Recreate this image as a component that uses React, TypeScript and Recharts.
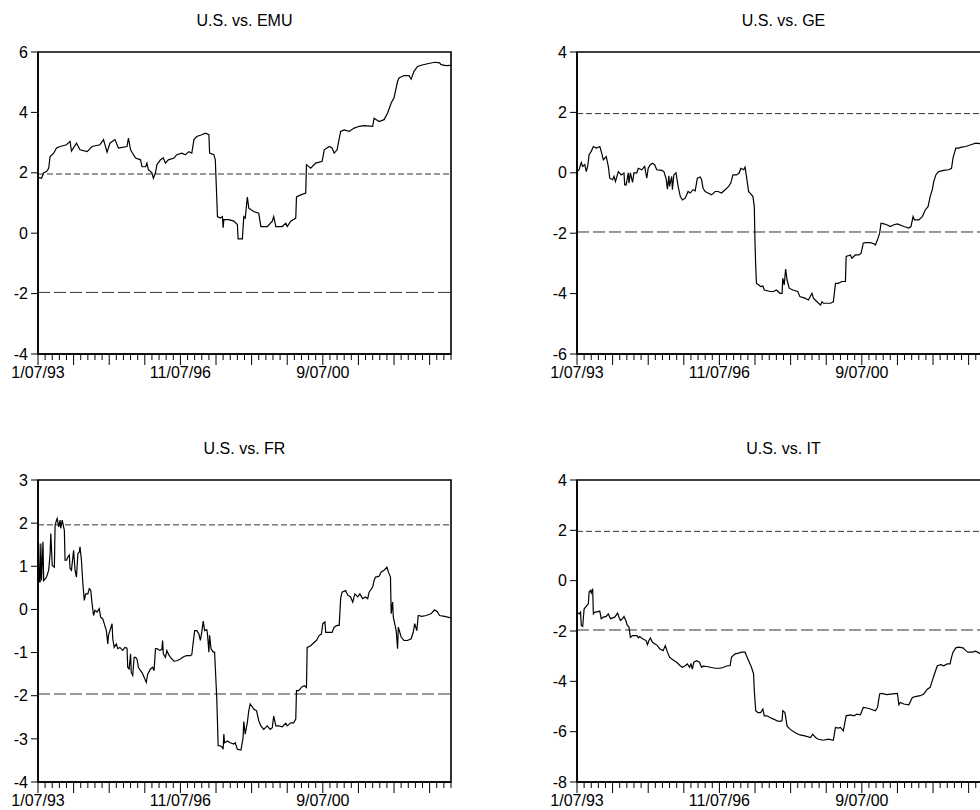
import React from 'react';
import { LineChart, Line, XAxis, YAxis, ReferenceLine, ReferenceArea } from 'recharts';

// weekly observations, [week index, statistic]
type Pt = [number, number];

const titles = ['U.S. vs. EMU', 'U.S. vs. GE', 'U.S. vs. FR', 'U.S. vs. IT'];

const xLabelIdx = [0, 200, 400];
const xLabelText = ['1/07/93', '11/07/96', '9/07/00'];

const emuTicks = [-4, -2, 0, 2, 4, 6];
const geTicks = [-6, -4, -2, 0, 2, 4];
const frTicks = [-4, -3, -2, -1, 0, 1, 2, 3];
const itTicks = [-8, -6, -4, -2, 0, 2, 4];

const critical = [1.96, -1.96];

const emuPoints: Pt[] = [
  [0, 1.85], [5, 1.82], [8, 2.0], [12, 2.04], [15, 2.15], [17, 2.54], [22, 2.65], [26, 2.82], [31, 2.87],
  [40, 2.93], [45, 3.04], [47, 2.72], [54, 2.98], [59, 2.76], [69, 2.7], [76, 2.87], [87, 2.93], [92, 3.1],
  [97, 2.68], [101, 2.98], [108, 3.1], [113, 2.82], [125, 2.87], [127, 3.15], [130, 2.76], [134, 2.6],
  [137, 2.49], [144, 2.43], [146, 2.2], [151, 2.2], [153, 2.32], [155, 2.1], [160, 2.0], [162, 1.82],
  [165, 2.0], [167, 2.27], [172, 2.43], [176, 2.49], [179, 2.32], [183, 2.43], [191, 2.49], [195, 2.6],
  [202, 2.65], [207, 2.6], [212, 2.7], [216, 2.65], [219, 3.1], [223, 3.2], [230, 3.26], [235, 3.31],
  [240, 3.26], [241, 2.65], [247, 2.6], [249, 2.43], [251, 1.2], [252, 0.55], [256, 0.5], [259, 0.55],
  [260, 0.18], [261, 0.45], [268, 0.45], [275, 0.4], [280, 0.29], [281, -0.19], [287, -0.19], [289, 0.55],
  [291, 0.5], [294, 1.2], [296, 0.83], [303, 0.72], [310, 0.66], [313, 0.22], [322, 0.22], [329, 0.4],
  [331, 0.55], [334, 0.22], [343, 0.22], [348, 0.33], [350, 0.22], [355, 0.4], [362, 0.5], [363, 1.2],
  [369, 1.27], [376, 1.33], [377, 2.27], [383, 2.15], [390, 2.32], [399, 2.38], [402, 2.76], [409, 2.87],
  [413, 2.82], [416, 2.65], [420, 2.76], [425, 3.37], [430, 3.42], [437, 3.37], [444, 3.48], [451, 3.54],
  [458, 3.56], [470, 3.54], [472, 3.81], [479, 3.7], [486, 3.76], [491, 3.98], [496, 4.31], [500, 4.48],
  [505, 5.03], [507, 5.14], [514, 5.22], [521, 5.22], [524, 5.1], [528, 5.36], [533, 5.52], [538, 5.56],
  [547, 5.61], [557, 5.66], [564, 5.64], [566, 5.58], [573, 5.55], [580, 5.56],
];

const gePoints: Pt[] = [
  [0, 0.04], [3, 0.1], [6, 0.34], [8, 0.21], [11, 0.27], [13, 0.04], [15, 0.21], [17, 0.6], [20, 0.71],
  [23, 0.87], [27, 0.82], [32, 0.87], [34, 0.71], [37, 0.43], [41, 0.54], [44, 0.21], [46, -0.18],
  [50, -0.23], [52, -0.12], [54, -0.29], [58, 0.04], [60, -0.01], [62, -0.07], [66, -0.01], [67, -0.4],
  [69, -0.4], [72, 0.0], [73, -0.34], [75, 0.0], [78, -0.32], [80, 0.0], [84, 0.0], [86, 0.15], [91, 0.1],
  [95, 0.21], [98, -0.18], [100, 0.15], [103, 0.27], [106, 0.32], [109, 0.27], [112, 0.1], [119, 0.08],
  [122, 0.04], [125, -0.18], [127, -0.54], [129, -0.1], [130, -0.45], [133, -0.12], [134, -0.56],
  [136, -0.07], [139, 0.0], [142, -0.45], [145, -0.78], [148, -0.9], [152, -0.84], [156, -0.62],
  [159, -0.67], [163, -0.56], [166, -0.6], [169, -0.18], [173, -0.14], [175, -0.23], [177, -0.51],
  [180, -0.62], [184, -0.67], [189, -0.73], [194, -0.62], [198, -0.62], [203, -0.67], [208, -0.56],
  [213, -0.45], [216, -0.34], [219, -0.07], [224, -0.07], [228, 0.0], [230, 0.15], [234, 0.1], [236, 0.19],
  [238, -0.12], [241, -0.62], [243, -0.67], [247, -0.78], [249, -1.12], [250, -2.33], [251, -3.1],
  [252, -3.66], [255, -3.71], [258, -3.77], [261, -3.75], [263, -3.88], [271, -3.93], [276, -3.93],
  [280, -3.88], [285, -3.99], [288, -3.99], [289, -3.49], [291, -3.71], [293, -3.19], [295, -3.55],
  [298, -3.82], [303, -3.88], [310, -3.93], [313, -4.1], [320, -4.15], [325, -4.21], [330, -3.99],
  [332, -4.15], [337, -4.27], [342, -4.38], [344, -4.27], [346, -4.32], [351, -4.32], [356, -4.32],
  [360, -4.27], [363, -3.66], [367, -3.66], [372, -3.6], [377, -3.6], [378, -2.77], [384, -2.72],
  [386, -2.83], [391, -2.72], [396, -2.72], [399, -2.66], [402, -2.33], [405, -2.31], [412, -2.31],
  [417, -2.35], [419, -2.39], [422, -2.22], [425, -2.0], [427, -1.67], [431, -1.69], [435, -1.72],
  [440, -1.78], [445, -1.72], [450, -1.69], [459, -1.78], [466, -1.83], [469, -1.78], [472, -1.45],
  [474, -1.56], [480, -1.56], [485, -1.45], [489, -1.23], [493, -1.12], [496, -0.78], [499, -0.56],
  [501, -0.29], [504, -0.07], [506, 0.0], [508, 0.04], [515, 0.08], [522, 0.1], [526, 0.15], [528, 0.49],
  [532, 0.82], [536, 0.82], [540, 0.85], [546, 0.87], [553, 0.93], [560, 0.98], [567, 0.96], [573, 1.0],
  [580, 0.98],
];

const frPoints: Pt[] = [
  [0, 0.64], [1, 1.53], [2, 0.64], [3, 0.64], [4, 1.53], [5, 0.67], [7, 1.57], [8, 0.67], [10, 0.71],
  [12, 0.75], [15, 0.91], [17, 1.29], [18, 1.76], [20, 1.02], [23, 0.98], [24, 1.95], [26, 2.07],
  [27, 2.11], [29, 1.91], [31, 2.07], [32, 1.88], [34, 2.07], [36, 1.91], [37, 1.84], [38, 1.14],
  [40, 1.14], [42, 1.22], [44, 1.26], [45, 0.95], [47, 0.91], [50, 1.37], [52, 0.91], [54, 0.75],
  [56, 1.29], [58, 1.33], [59, 1.45], [61, 1.14], [63, 0.6], [65, 0.21], [67, 0.36], [70, 0.36],
  [72, 0.48], [74, 0.45], [76, 0.13], [78, -0.14], [80, -0.02], [83, -0.06], [86, 0.02], [88, -0.18],
  [91, -0.22], [93, -0.33], [96, -0.49], [98, -0.8], [99, -0.6], [101, -0.49], [104, -0.33], [105, -0.68],
  [107, -0.88], [110, -0.8], [112, -0.91], [115, -0.88], [119, -0.95], [122, -0.88], [125, -0.9],
  [126, -1.34], [128, -1.38], [130, -1.03], [131, -1.46], [133, -1.53], [135, -1.11], [137, -1.11],
  [139, -1.15], [141, -1.34], [144, -1.42], [146, -1.46], [148, -1.53], [151, -1.65], [152, -1.69],
  [154, -1.5], [158, -1.38], [161, -1.34], [163, -1.42], [165, -0.91], [167, -0.91], [171, -0.95],
  [174, -0.93], [175, -0.72], [176, -1.03], [179, -1.11], [181, -0.95], [183, -1.03], [186, -1.11],
  [191, -1.2], [195, -1.19], [200, -1.15], [205, -1.09], [209, -1.07], [214, -1.07], [216, -1.05],
  [218, -0.76], [220, -0.49], [223, -0.49], [226, -0.57], [228, -0.72], [230, -0.53], [232, -0.27],
  [234, -0.49], [237, -0.47], [238, -0.57], [240, -0.99], [241, -0.6], [243, -0.91], [246, -0.99],
  [248, -0.99], [249, -1.34], [251, -2.04], [252, -2.58], [253, -3.16], [256, -3.16], [259, -3.2],
  [260, -3.24], [261, -2.89], [262, -3.09], [266, -3.05], [270, -3.09], [275, -3.12], [277, -3.09],
  [280, -3.24], [285, -3.26], [288, -2.97], [289, -2.6], [291, -2.89], [294, -2.62], [296, -2.35],
  [298, -2.19], [303, -2.31], [307, -2.35], [310, -2.58], [313, -2.7], [317, -2.78], [322, -2.7],
  [326, -2.78], [329, -2.74], [331, -2.47], [334, -2.7], [338, -2.7], [343, -2.72], [348, -2.64],
  [350, -2.7], [355, -2.63], [359, -2.63], [362, -2.54], [363, -1.88], [366, -1.88], [371, -1.79],
  [374, -1.77], [377, -1.81], [378, -0.88], [383, -0.84], [388, -0.76], [391, -0.72], [395, -0.6],
  [398, -0.57], [400, -0.33], [403, -0.29], [404, -0.53], [409, -0.53], [413, -0.53], [416, -0.41],
  [420, -0.37], [423, -0.37], [425, 0.25], [427, 0.4], [432, 0.44], [435, 0.33], [439, 0.29], [442, 0.17],
  [445, 0.36], [449, 0.29], [452, 0.36], [456, 0.25], [460, 0.29], [463, 0.25], [465, 0.4], [470, 0.52],
  [472, 0.67], [474, 0.75], [479, 0.77], [482, 0.87], [486, 0.91], [490, 0.98], [492, 0.87], [495, 0.75],
  [496, -0.1], [498, 0.17], [499, -0.18], [503, -0.49], [505, -0.91], [506, -0.41], [510, -0.64],
  [514, -0.72], [519, -0.72], [524, -0.68], [527, -0.53], [529, -0.33], [532, -0.49], [534, -0.14],
  [539, -0.16], [545, -0.14], [552, -0.1], [557, -0.01], [561, -0.06], [564, -0.14], [571, -0.16],
  [578, -0.19], [580, -0.19],
];

const itPoints: Pt[] = [
  [0, -1.25], [3, -1.32], [5, -1.25], [6, -1.78], [8, -1.82], [10, -1.12], [12, -1.05], [14, -0.98],
  [16, -0.92], [17, -0.45], [19, -0.39], [20, -0.49], [22, -0.32], [23, -1.32], [25, -1.25], [27, -1.25],
  [32, -1.21], [34, -1.51], [37, -1.45], [41, -1.42], [44, -1.32], [47, -1.51], [53, -1.45], [57, -1.29],
  [59, -1.45], [61, -1.58], [64, -1.51], [66, -1.42], [69, -1.61], [70, -1.74], [73, -1.85], [75, -2.25],
  [78, -2.18], [81, -2.18], [84, -2.18], [86, -2.27], [88, -2.22], [92, -2.31], [97, -2.38], [99, -2.54],
  [101, -2.38], [103, -2.28], [106, -2.45], [109, -2.51], [113, -2.58], [116, -2.71], [121, -2.78],
  [124, -2.58], [127, -2.84], [130, -3.04], [135, -3.15], [140, -3.24], [145, -3.38], [148, -3.44],
  [152, -3.38], [155, -3.31], [158, -3.44], [160, -3.31], [162, -3.51], [164, -3.24], [168, -3.18],
  [172, -3.24], [175, -3.44], [177, -3.4], [182, -3.41], [187, -3.44], [194, -3.48], [201, -3.48],
  [206, -3.44], [211, -3.38], [215, -3.38], [217, -3.04], [222, -2.91], [227, -2.88], [231, -2.84],
  [236, -2.84], [238, -2.98], [242, -3.24], [245, -3.44], [248, -3.71], [249, -4.37], [250, -4.77],
  [251, -5.17], [254, -5.24], [258, -5.24], [261, -5.1], [263, -5.37], [267, -5.37], [271, -5.44],
  [276, -5.5], [281, -5.57], [285, -5.59], [288, -5.57], [289, -5.17], [292, -5.24], [295, -5.77],
  [299, -5.9], [306, -6.03], [313, -6.13], [320, -6.17], [328, -6.23], [331, -6.1], [335, -6.23],
  [339, -6.3], [346, -6.34], [353, -6.3], [360, -6.34], [363, -5.83], [367, -5.86], [370, -5.83],
  [374, -5.97], [378, -5.37], [384, -5.33], [389, -5.37], [393, -5.3], [398, -5.33], [402, -5.04],
  [407, -5.06], [412, -5.1], [419, -5.17], [422, -5.04], [425, -4.5], [428, -4.48], [435, -4.53],
  [443, -4.5], [450, -4.48], [452, -4.93], [454, -4.84], [459, -4.9], [466, -4.93], [471, -4.64],
  [475, -4.61], [482, -4.57], [487, -4.5], [492, -4.31], [496, -4.24], [499, -3.97], [502, -3.71],
  [506, -3.38], [511, -3.34], [515, -3.38], [520, -3.31], [524, -3.31], [526, -3.04], [528, -2.84],
  [532, -2.67], [536, -2.64], [542, -2.67], [546, -2.78], [549, -2.84], [555, -2.84], [560, -2.8],
  [565, -2.88], [567, -2.91], [573, -2.93], [580, -2.95],
];

const N_WEEKS = 580;
const xTicks: number[] = [];
for (let i = 0; i <= N_WEEKS; i += 10) xTicks.push(i);

const FONT = '"Liberation Sans", Arial, sans-serif';
const FONT_SIZE = 16;
const AXIS_W = 38;
const PLOT_W = 413;
const PLOT_H = 302;
const M_TOP = 52;
const M_RIGHT = 19;
const X_AXIS_H = 40;
const M_BOTTOM = 6;
const CHART_W = AXIS_W + PLOT_W + M_RIGHT;
const CHART_H = M_TOP + PLOT_H + X_AXIS_H + M_BOTTOM;

const renderXTick = (props: any) => {
  const { x, y, payload } = props;
  const v = payload.value;
  const major = v % 50 === 0;
  const li = xLabelIdx.indexOf(v);
  return (
    <g>
      <line x1={x} x2={x} y1={y} y2={y + (major ? 11 : 6)} stroke="#000" strokeWidth={1} />
      {li >= 0 && (
        <text x={x} y={y + 24} textAnchor="middle" fontFamily={FONT} fontSize={FONT_SIZE} fill="#000">
          {xLabelText[li]}
        </text>
      )}
    </g>
  );
};

type PanelProps = { title: string; points: Pt[]; yTicks: number[]; left: number; top: number };

const Panel = ({ title, points, yTicks, left, top }: PanelProps) => {
  const data = points.map(([i, v]) => ({ i, v }));
  const yMin = yTicks[0];
  const yMax = yTicks[yTicks.length - 1];
  return (
    <div style={{ position: 'absolute', left, top, width: CHART_W, height: CHART_H }}>
      <LineChart
        width={CHART_W}
        height={CHART_H}
        data={data}
        margin={{ top: M_TOP, right: M_RIGHT, bottom: M_BOTTOM, left: 0 }}
      >
        <XAxis
          dataKey="i"
          type="number"
          domain={[0, N_WEEKS]}
          ticks={xTicks}
          interval={0}
          tickSize={0}
          tickMargin={0}
          height={X_AXIS_H}
          tickLine={false}
          tick={renderXTick}
          axisLine={{ stroke: '#000', strokeWidth: 1.6 }}
        />
        <YAxis
          type="number"
          domain={[yMin, yMax]}
          ticks={yTicks}
          interval={0}
          width={AXIS_W}
          tickSize={7}
          tickMargin={3}
          tick={{ fill: '#000', fontSize: FONT_SIZE, fontFamily: FONT }}
          tickLine={{ stroke: '#000' }}
          axisLine={{ stroke: '#000', strokeWidth: 1.6 }}
        />
        <ReferenceArea x1={0} x2={N_WEEKS} y1={yMin} y2={yMax} fill="none" stroke="#000" strokeWidth={1.6} />
        <ReferenceLine y={critical[0]} stroke="#333" strokeWidth={1} strokeDasharray="6 3" />
        <ReferenceLine y={critical[1]} stroke="#333" strokeWidth={1} strokeDasharray="12 4" />
        <Line
          dataKey="v"
          type="linear"
          dot={false}
          activeDot={false}
          stroke="#000"
          strokeWidth={1.2}
          isAnimationActive={false}
        />
      </LineChart>
      <div
        style={{
          position: 'absolute',
          left: AXIS_W,
          width: PLOT_W,
          top: M_TOP - 40,
          textAlign: 'center',
          fontFamily: FONT,
          fontSize: FONT_SIZE,
          lineHeight: '18px',
          color: '#000',
        }}
      >
        {title}
      </div>
    </div>
  );
};

const App: React.FC = () => {
  return (
    <div
      style={{
        position: 'fixed',
        left: 0,
        top: 0,
        width: 980,
        height: 810,
        overflow: 'hidden',
        background: '#fff',
      }}
    >
      <Panel title={titles[0]} points={emuPoints} yTicks={emuTicks} left={0} top={0} />
      <Panel title={titles[1]} points={gePoints} yTicks={geTicks} left={539} top={0} />
      <Panel title={titles[2]} points={frPoints} yTicks={frTicks} left={0} top={428} />
      <Panel title={titles[3]} points={itPoints} yTicks={itTicks} left={539} top={428} />
    </div>
  );
};

export default App;
